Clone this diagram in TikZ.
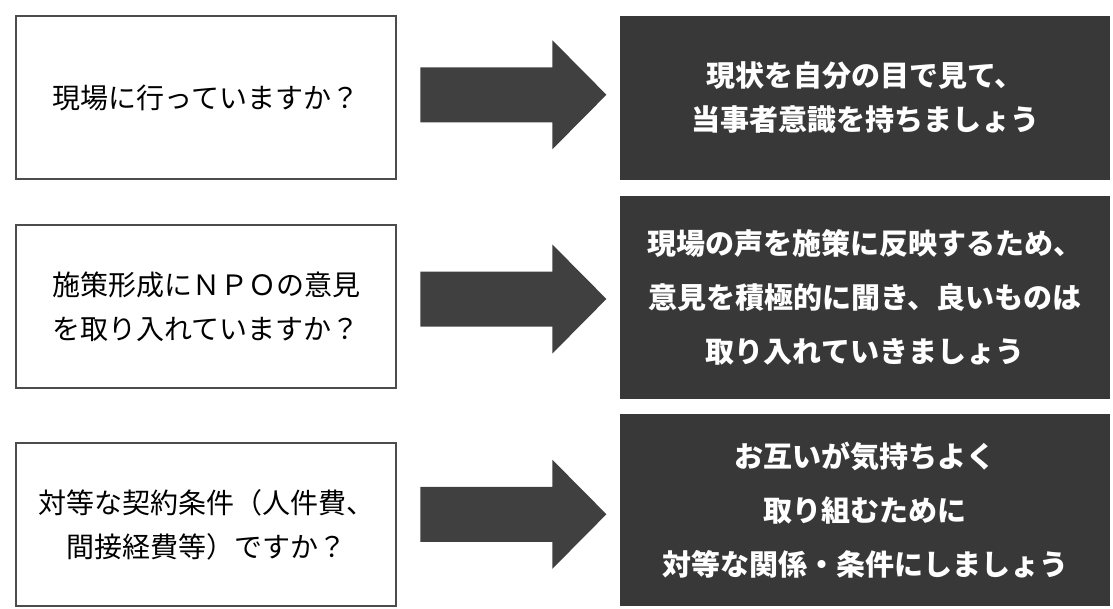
\documentclass[tikz,border=0pt]{standalone}
\usepackage{fontspec}
\newfontfamily\cjk{Noto Sans CJK JP}
\usetikzlibrary{calc}
\newcommand{\bigarrow}[2]{%
	\fill[arrowfill] ($(#1.east)!0.5!(#2.west)$) ++(-88,-30.5) -- ++(132,0) -- ++(0,-27)
		-- ++(54,54.5) -- ++(-54,54.5) -- ++(0,-27) -- ++(-132,0) -- cycle;}

\begin{document}
\begin{tikzpicture}[x=1pt,y=-1pt,
	question/.style={draw=black!70, line width=2pt, minimum width=380pt, minimum height=163pt,
		align=center, font=\cjk\fontsize{28}{44}\selectfont},
	answer/.style={fill=black!78, minimum width=490pt, align=center, text=white,
		font=\cjk\bfseries\fontsize{29}{54}\selectfont},
	arrowfill/.style={fill=black!75}]
	\useasboundingbox (0,0) rectangle (1113,608);
	\node[question] (q1) at (206,97.5) {現場に行っていますか？};
	\node[question] (q2) at (206,306.5) {施策形成にＮＰＯの意見\\を取り入れていますか？};
	\node[question] (q3) at (206,524.5) {対等な契約条件（人件費、\\間接経費等）ですか？};
	\node[answer, minimum height=164pt, font=\cjk\bfseries\fontsize{29}{44}\selectfont] (a1) at (865,98)
		{現状を自分の目で見て、\\当事者意識を持ちましょう};
	\node[answer, minimum height=203pt] (a2) at (865,297.5)
		{現場の声を施策に反映するため、\\意見を積極的に聞き、良いものは\\取り入れていきましょう};
	\node[answer, minimum height=192pt] (a3) at (865,510)
		{お互いが気持ちよく\\取り組むために\\対等な関係・条件にしましょう};
	\bigarrow{q1}{a1}
	\bigarrow{q2}{a2}
	\bigarrow{q3}{a3}
\end{tikzpicture}
\end{document}
